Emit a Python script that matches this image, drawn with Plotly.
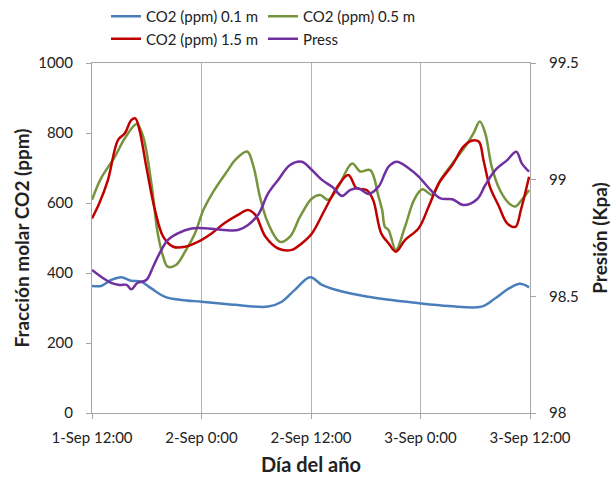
import datetime as dt
import plotly.graph_objects as go

base = dt.datetime(2013, 9, 1, 12, 0)

# hours after 1-Sep 12:00 and values
h_01 = [0, 1.0, 2.1, 3.2, 4.3, 5.4, 6.5, 8.0, 9.8, 12.0, 14.9, 15.7, 19.3, 20.8, 22.2, 23.9,
        25.2, 27.4, 30.3, 32.1, 35.4, 39.1, 42.7, 44.2, 45.7, 46.9, 47.9]
co2_01 = [363, 363, 380, 388, 378, 375, 356, 332, 323, 318, 311, 309, 304, 318, 351, 388,
          366, 347, 332, 325, 315, 306, 304, 328, 356, 369, 359]

h_05 = [0, 1.0, 2.5, 3.6, 4.9, 5.6, 6.5, 7.2, 7.8, 8.3, 9.2, 10.2, 11.3, 12.2, 13.4, 14.9,
        15.7, 17.0, 17.7, 18.4, 19.3, 20.6, 21.7, 22.8, 24.1, 25.0, 25.9, 27.0, 28.5, 29.4,
        30.5, 31.4, 31.8, 32.1, 32.5, 33.3, 34.3, 35.3, 36.2, 37.3, 38.2, 39.5, 40.9, 41.8,
        42.5, 43.1, 43.8, 44.7, 45.7, 46.4, 47.1, 47.9]
co2_05 = [609, 671, 732, 785, 826, 790, 657, 514, 447, 418, 423, 461, 514, 580, 637, 694,
          723, 747, 704, 618, 542, 489, 504, 561, 613, 623, 609, 647, 713, 690,
          694, 618, 580, 532, 523, 466, 532, 609, 639, 623, 666, 713, 761, 799,
          833, 799, 704, 637, 599, 590, 609, 637]

h_15 = [0, 0.8, 1.75, 2.85, 3.6, 4.3, 4.75, 5.2, 5.95, 6.9, 7.8, 8.9, 10.2, 11.6, 13.1, 14.5,
        16.0, 17.1, 17.9, 19.0, 20.4, 21.9, 23.0, 24.1, 25.5, 27.0, 28.1, 29.0, 30.1, 30.8,
        31.7, 32.5, 33.3, 34.3, 35.8, 36.9, 38.0, 39.5, 40.7, 41.6, 42.4, 42.9, 43.6, 44.6,
        45.5, 46.4, 47.0, 47.9]
co2_15 = [556, 599, 666, 780, 799, 837, 842, 809, 704, 580, 504, 475, 475, 489, 513, 542,
          566, 580, 566, 504, 470, 466, 485, 513, 580, 651, 680, 642, 637, 609,
          513, 485, 461, 494, 528, 590, 656, 709, 761, 778, 775, 723, 647, 590,
          542, 532, 580, 675]

h_p = [0, 1.0, 2.1, 3.0, 3.8, 4.3, 5.0, 5.95, 6.7, 7.4, 8.3, 9.4, 10.9, 12.7, 14.5, 16.0,
       17.1, 18.2, 19.3, 20.4, 21.7, 23.0, 23.9, 25.2, 26.4, 27.4, 28.3, 29.2, 30.3, 31.4,
       32.1, 32.5, 33.4, 34.7, 35.8, 37.1, 38.2, 39.5, 40.7, 42.2, 43.1, 44.2, 45.5, 46.5,
       47.1, 47.9]
press = [98.613, 98.584, 98.558, 98.549, 98.549, 98.530, 98.558, 98.570, 98.627, 98.684,
         98.741, 98.770, 98.791, 98.791, 98.784, 98.784, 98.806, 98.849, 98.941, 98.999,
         99.063, 99.077, 99.049, 98.999, 98.967, 98.930, 98.956, 98.963, 98.939, 98.970,
         99.027, 99.056, 99.077, 99.049, 99.013, 98.956, 98.920, 98.916, 98.891, 98.916,
         98.977, 99.041, 99.084, 99.120, 99.070, 99.034]

tick_hours = [0, 12, 24, 36, 48]
tick_labels = ["1-Sep 12:00", "2-Sep 0:00", "2-Sep 12:00", "3-Sep 0:00", "3-Sep 12:00"]

def to_t(hs):
    return [base + dt.timedelta(hours=h) for h in hs]

FONT = "Lato"
fig = go.Figure()
fig.add_trace(go.Scatter(x=to_t(h_01), y=co2_01, name="CO2 (ppm) 0.1 m", mode="lines",
                         line=dict(color="#4a7ebb", width=2.5, shape="spline")))
fig.add_trace(go.Scatter(x=to_t(h_05), y=co2_05, name="CO2 (ppm) 0.5 m", mode="lines",
                         line=dict(color="#77933c", width=2.5, shape="spline")))
fig.add_trace(go.Scatter(x=to_t(h_15), y=co2_15, name="CO2 (ppm) 1.5 m", mode="lines",
                         line=dict(color="#c00000", width=2.5, shape="spline")))
fig.add_trace(go.Scatter(x=to_t(h_p), y=press, name="Press", mode="lines", yaxis="y2",
                         line=dict(color="#7030a0", width=2.5, shape="spline")))

fig.update_layout(
    width=614, height=486,
    margin=dict(l=92, r=84, t=63, b=73, autoexpand=False),
    paper_bgcolor="white", plot_bgcolor="white",
    font=dict(family=FONT, size=15, color="#222"),
    showlegend=True,
    legend=dict(orientation="h", x=0.032, xanchor="left", y=1.0, yanchor="top",
                yref="container", font=dict(size=15, color="#222"),
                entrywidth=112, entrywidthmode="pixels", tracegroupgap=0,
                bgcolor="rgba(0,0,0,0)"),
    xaxis=dict(
        type="date",
        range=[base, base + dt.timedelta(hours=48)],
        tickvals=to_t(tick_hours), ticktext=tick_labels,
        showgrid=True, gridcolor="#b3b3b3", gridwidth=1,
        showline=True, linecolor="#a6a6a6", linewidth=1, mirror=True,
        ticks="outside", ticklen=5, tickcolor="#a6a6a6",
        ticklabelstandoff=6,
        tickfont=dict(size=15, color="#222"),
        title=dict(text="<b>Día del año</b>", font=dict(size=20, color="#222", family=FONT), standoff=12),
        zeroline=False,
    ),
    yaxis=dict(
        range=[0, 1000], tickvals=[0, 200, 400, 600, 800, 1000],
        showgrid=False, showline=True, linecolor="#a6a6a6", linewidth=1,
        ticks="outside", ticklen=5, tickcolor="#a6a6a6",
        ticklabelstandoff=10,
        tickfont=dict(size=15, color="#222"),
        title=dict(text="<b>Fracción molar CO2 (ppm)</b>", font=dict(size=19, color="#222", family=FONT), standoff=3),
        zeroline=False,
    ),
    yaxis2=dict(
        range=[98, 99.5], tickvals=[98, 98.5, 99, 99.5], ticktext=["98", "98.5", "99", "99.5"],
        overlaying="y", side="right",
        showgrid=False, showline=True, linecolor="#a6a6a6", linewidth=1,
        ticks="outside", ticklen=5, tickcolor="#a6a6a6",
        ticklabelstandoff=10,
        tickfont=dict(size=15, color="#222"),
        title=dict(text="<b>Presión (Kpa)</b>", font=dict(size=19, color="#222", family=FONT), standoff=16),
        zeroline=False,
    ),
)

fig.write_html("out.html")
